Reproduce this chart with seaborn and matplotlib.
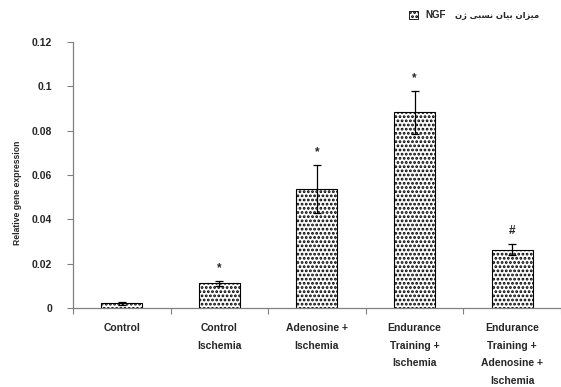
import matplotlib
matplotlib.use("Agg")
import matplotlib.pyplot as plt
import seaborn as sns
import pandas as pd
import numpy as np
from matplotlib.patches import Patch

# ---- data ----
categories = ["Control", "Control\nIschemia", "Adenosine +\nIschemia",
              "Endurance\nTraining +\nIschemia",
              "Endurance\nTraining +\nAdenosine +\nIschemia"]
values = [0.0021, 0.0111, 0.0537, 0.0883, 0.0262]
errors = [0.0006, 0.0011, 0.0108, 0.0097, 0.0025]
marks = ["", "*", "*", "*", "#"]
y_ticks = [0, 0.02, 0.04, 0.06, 0.08, 0.1, 0.12]
y_tick_labels = ["0", "0.02", "0.04", "0.06", "0.08", "0.1", "0.12"]
y_label = "Relative gene expression"
legend_persian = "میزان بیان نسبی ژن"
legend_latin = "NGF"

# ---- minimal Persian shaping (matplotlib has no complex text layout) ----
FORMS = {  # iso, fin, ini, med
    "م": ("\uFEE1", "\uFEE2", "\uFEE3", "\uFEE4"),
    "ی": ("\uFBFC", "\uFBFD", "\uFBFE", "\uFBFF"),
    "ز": ("\uFEAF", "\uFEB0", "\uFEAF", "\uFEB0"),
    "ا": ("\uFE8D", "\uFE8E", "\uFE8D", "\uFE8E"),
    "ن": ("\uFEE5", "\uFEE6", "\uFEE7", "\uFEE8"),
    "ب": ("\uFE8F", "\uFE90", "\uFE91", "\uFE92"),
    "س": ("\uFEB1", "\uFEB2", "\uFEB3", "\uFEB4"),
    "ژ": ("\uFB8A", "\uFB8B", "\uFB8A", "\uFB8B"),
}
NON_LEFT = set("ازژدذرو")


def shape_rtl(text):
    out = []
    for i, ch in enumerate(text):
        if ch not in FORMS:
            out.append(ch)
            continue
        prev = text[i - 1] if i > 0 else " "
        nxt = text[i + 1] if i + 1 < len(text) else " "
        join_prev = prev in FORMS and prev not in NON_LEFT
        join_next = nxt in FORMS and ch not in NON_LEFT
        if join_prev and join_next:
            out.append(FORMS[ch][3])
        elif join_prev:
            out.append(FORMS[ch][1])
        elif join_next:
            out.append(FORMS[ch][2])
        else:
            out.append(FORMS[ch][0])
    return "".join(out)[::-1]


FONT = ["Liberation Sans", "DejaVu Sans"]

sns.set_theme(style="white")
plt.rcParams["font.family"] = FONT
plt.rcParams["font.weight"] = "bold"
plt.rcParams["hatch.linewidth"] = 1.35
plt.rcParams["hatch.color"] = "black"

df = pd.DataFrame({"group": categories, "value": values})

fig = plt.figure(figsize=(5.61, 3.87), dpi=100)
ax = fig.add_axes([0.130, 0.2041, 0.870, 0.6874])

sns.barplot(data=df, x="group", y="value", color="white", edgecolor="black",
            linewidth=0.8, width=0.42, hatch="....", errorbar=None, ax=ax)

x = np.arange(len(categories))
ax.errorbar(x, values, yerr=errors, fmt="none", ecolor="black",
            elinewidth=0.9, capsize=3, capthick=0.9)

for xi, v, e, m in zip(x, values, errors, marks):
    if m:
        ax.annotate(m, (xi, v + e), xytext=(0, 5), textcoords="offset points",
                    ha="center", va="bottom", fontsize=8.5, fontweight="bold")

ax.set_xlim(-0.5, len(categories) - 0.5)
ax.set_ylim(0, 0.12)
ax.set_yticks(y_ticks)
ax.set_yticklabels(y_tick_labels, fontsize=7.5, fontweight="bold")
ax.set_xticks(x)
ax.set_xticklabels(categories, fontsize=7.5, fontweight="bold",
                   linespacing=1.95)
ax.set_xticks(np.arange(len(categories) + 1) - 0.5, minor=True)
ax.tick_params(axis="x", which="major", length=0, pad=11)
ax.tick_params(axis="x", which="minor", length=4, width=0.8, color="#808080",
               direction="out", bottom=True)
ax.tick_params(axis="y", length=4, width=0.8, color="#808080", direction="out",
               left=True, pad=11)
for lab in ax.get_xticklabels():
    lab.set_verticalalignment("top")

ax.set_xlabel("")
ax.set_ylabel(y_label, fontsize=6.2, fontweight="bold")
ax.yaxis.set_label_coords(-0.104, 0.432)

for s in ["top", "right"]:
    ax.spines[s].set_visible(False)
for s in ["left", "bottom"]:
    ax.spines[s].set_color("#808080")
    ax.spines[s].set_linewidth(0.9)

handle = Patch(facecolor="white", edgecolor="black", hatch="....",
               linewidth=0.6)
fig.legend([handle], [legend_latin], loc="center left",
           bbox_to_anchor=(0.722, 0.961), frameon=False,
           prop={"family": FONT, "weight": "bold", "size": 7},
           handlelength=0.9, handleheight=0.9, handletextpad=0.8,
           borderaxespad=0)
fig.text(0.811, 0.961, shape_rtl(legend_persian), ha="left", va="center",
         fontsize=6, fontweight="bold", family=["DejaVu Sans"])

fig.savefig("out.png", dpi=100)
